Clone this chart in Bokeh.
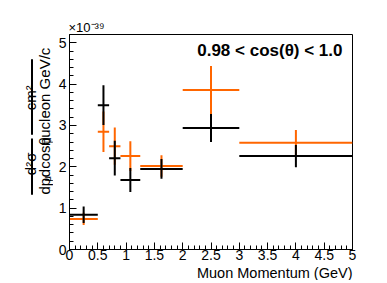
import math
from bokeh.plotting import figure
from bokeh.layouts import row
from bokeh.models import Label, FixedTicker, Range1d, Title
from bokeh.core.properties import value
from bokeh.embed import file_html
from bokeh.resources import INLINE

# ---- data (units of 1e-39 cm^2 / nucleon GeV/c) ----
bin_lo = [0.0, 0.5, 0.7, 0.9, 1.25, 2.0, 3.0]
bin_hi = [0.5, 0.7, 0.9, 1.25, 2.0, 3.0, 5.0]
black_y = [0.84, 3.49, 2.21, 1.68, 1.95, 2.94, 2.26]
black_err = [0.20, 0.48, 0.42, 0.29, 0.24, 0.34, 0.27]
orange_y = [0.74, 2.85, 2.50, 2.26, 2.02, 3.86, 2.58]
orange_err = [0.15, 0.49, 0.45, 0.36, 0.26, 0.58, 0.31]
x_ticks = [0, 0.5, 1, 1.5, 2, 2.5, 3, 3.5, 4, 4.5, 5]
x_tick_labels = ["0", "0.5", "1", "1.5", "2", "2.5", "3", "3.5", "4", "4.5", "5"]
y_ticks = [0, 1, 2, 3, 4, 5]
y_tick_labels = ["0", "1", "2", "3", "4", "5"]

XMAX = 5.0
YMAX = 5.2
FONT = "Liberation Sans"
W, H = 387, 283
LW = 53          # left label strip width
FL, FT, FW, FH = 69, 34, 283, 215  # frame in page px


def dx(px):
    return (px - FL) / FW * XMAX


def dy(py):
    return (FT + FH - py) / FH * YMAX


# ---- main plot ----
p = figure(frame_width=FW, frame_height=FH, output_backend="svg", toolbar_location=None,
           x_range=Range1d(0, XMAX), y_range=Range1d(0, YMAX),
           min_border_left=FL - LW, min_border_top=FT, min_border_right=W - FL - FW,
           min_border_bottom=10)
p.background_fill_color = "white"
p.border_fill_color = "white"
p.outline_line_color = "black"
p.outline_line_width = 1
p.xgrid.visible = False
p.ygrid.visible = False

p.xaxis.ticker = FixedTicker(ticks=x_ticks, minor_ticks=[i * 0.1 for i in range(51)])
p.yaxis.ticker = FixedTicker(ticks=y_ticks, minor_ticks=[i * 0.2 for i in range(27)])
p.xaxis.major_label_overrides = {t: l for t, l in zip(x_ticks, x_tick_labels)}
p.yaxis.major_label_overrides = {t: l for t, l in zip(y_ticks, y_tick_labels)}
for ax in (p.xaxis, p.yaxis):
    ax.major_tick_in = 7
    ax.major_tick_out = 0
    ax.minor_tick_in = 4
    ax.minor_tick_out = 0
    ax.axis_line_color = "black"
    ax.major_tick_line_color = "black"
    ax.minor_tick_line_color = "black"
    ax.major_label_text_font = FONT
    ax.major_label_text_font_size = "14px"
    ax.major_label_text_color = "black"
p.xaxis.major_label_standoff = 0
p.yaxis.major_label_standoff = 3

centers = [(a + b) / 2 for a, b in zip(bin_lo, bin_hi)]
for ys, es, col in ((orange_y, orange_err, "#ff6600"), (black_y, black_err, "black")):
    p.segment(x0=bin_lo, x1=bin_hi, y0=ys, y1=ys, line_color=col, line_width=2)
    p.segment(x0=centers, x1=centers, y0=[y - e for y, e in zip(ys, es)],
              y1=[y + e for y, e in zip(ys, es)], line_color=col, line_width=2)

p.add_layout(Label(x=dx(342), y=dy(50), text="0.98 < cos(\u03b8) < 1.0", text_font=FONT,
                   text_font_size="17px", text_font_style="bold", text_align="right",
                   text_baseline="middle", text_color="black"))

# exponent above the frame, x-axis title below (right aligned)
p.add_layout(Title(text="\u00d710\u207b\u00b3\u2079", align="left", text_font=FONT,
                   text_font_size="13px", text_font_style="normal", standoff=0, offset=-1,
                   text_color="black"), "above")
p.add_layout(Title(text="Muon Momentum (GeV)", align="right", text_font=FONT,
                   text_font_size="14.5px", text_font_style="normal", standoff=0,
                   text_color="black"), "below")

# ---- left strip: y-axis title (page px coords, y up) ----
left = figure(width=LW, height=H, output_backend="svg", toolbar_location=None,
              x_range=Range1d(0, LW), y_range=Range1d(0, H),
              x_axis_location=None, y_axis_location=None, min_border=0)
left.outline_line_color = None
left.xgrid.visible = False
left.ygrid.visible = False
ang = math.pi / 2


def ly(py):
    return H - py


def txt(x, y, t, size, align, baseline):
    left.text(x=[x], y=[y], text=[t], angle=ang,
              text_font=value(FONT), text_font_size=value(size), text_color="black",
              text_align=align, text_baseline=baseline)


# fraction 1
txt(30.0, ly(168), "d\u00b2\u03c3", "15px", "center", "alphabetic")
pieces = [("dp", "15px", 43.5, 16.7), ("\u03bc", "10px", 46.5, 5.8),
          (" dcos\u03b8", "15px", 43.5, 44.2), ("\u03bc", "10px", 46.5, 5.8)]
total = sum(w for *_, w in pieces)
ycur = 171.5 + total / 2
for t, fs, bx, w in pieces:
    txt(bx, ly(ycur), t, fs, "left", "alphabetic")
    ycur -= w
left.segment(x0=[31.5], x1=[31.5], y0=[ly(135)], y1=[ly(208)], line_color="black", line_width=2)
# fraction 2
txt(30.0, ly(82), "cm\u00b2", "15px", "center", "alphabetic")
txt(43.5, ly(81), "nucleon GeV/c", "15px", "center", "alphabetic")
left.segment(x0=[31.5], x1=[31.5], y0=[ly(32)], y1=[ly(130)], line_color="black", line_width=2)

layout = row(left, p, spacing=0)
open("out.html", "w").write(file_html(layout, INLINE))
